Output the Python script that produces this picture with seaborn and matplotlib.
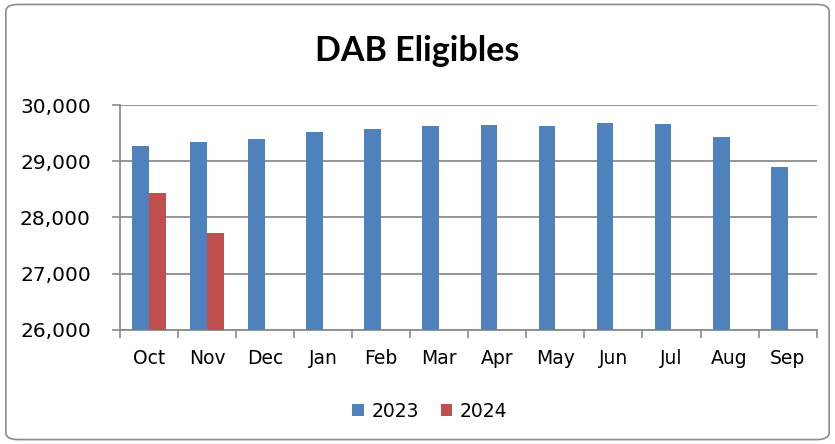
import seaborn as sns
import pandas as pd
import matplotlib.pyplot as plt
from matplotlib.patches import FancyBboxPatch
from matplotlib.ticker import FuncFormatter, FixedLocator

# Months and values
months = ['Oct', 'Nov', 'Dec', 'Jan', 'Feb', 'Mar', 'Apr', 'May', 'Jun', 'Jul', 'Aug', 'Sep']
eligibles_2023 = [29280, 29350, 29390, 29520, 29570, 29620, 29640, 29620, 29680, 29670, 29430, 28900]
eligibles_2024 = [28430, 27720, None, None, None, None, None, None, None, None, None, None]

df = pd.DataFrame({
    'Month': months * 2,
    'Year': ['2023'] * 12 + ['2024'] * 12,
    'Eligibles': eligibles_2023 + eligibles_2024,
})

fig = plt.figure(figsize=(8.35, 4.44), dpi=100)
ax = fig.add_axes([0.1437, 0.2568, 0.8343, 0.5067])

# rounded outer border
fig.patches.append(FancyBboxPatch((0.007, 0.01), 0.986, 0.98, boxstyle='round,pad=0,rounding_size=0.015',
                                  transform=fig.transFigure, fill=False, edgecolor='#8c8c8c', linewidth=1.2))

sns.barplot(data=df, x='Month', y='Eligibles', hue='Year', order=months,
            palette={'2023': '#4f81bd', '2024': '#c0504d'}, width=0.58,
            saturation=1, ax=ax, zorder=3)

ax.set_ylim(26000, 30000)
ax.set_xlim(-0.5, 11.5)
ax.set_yticks(range(26000, 30001, 1000))
ax.yaxis.set_major_formatter(FuncFormatter(lambda v, p: f'{int(v):,}'))
ax.grid(axis='y', color='#8c8c8c', linewidth=1.3, zorder=0)
ax.set_axisbelow(True)
ax.set_xlabel('')
ax.set_ylabel('')

for s in ['top', 'right']:
    ax.spines[s].set_visible(False)
for s in ['left', 'bottom']:
    ax.spines[s].set_color('#8c8c8c')
    ax.spines[s].set_linewidth(1.3)

ax.tick_params(axis='y', length=6, color='#8c8c8c', width=1.2, labelsize=14.5, pad=15)
ax.tick_params(axis='x', which='major', length=0, labelsize=13.5, pad=14)
ax.xaxis.set_minor_locator(FixedLocator([i - 0.5 for i in range(13)]))
ax.tick_params(axis='x', which='minor', length=6, color='#8c8c8c', width=1.2)

for lbl in ax.get_xticklabels() + ax.get_yticklabels():
    lbl.set_color('black')

fig.text(0.5, 0.885, 'DAB Eligibles', ha='center', va='center', fontsize=24.5,
         fontweight='bold', family=['Lato', 'DejaVu Sans'])

handles, labels = ax.get_legend_handles_labels()
ax.legend(handles, labels, loc='center', bbox_to_anchor=(0.515, 0.074), bbox_transform=fig.transFigure,
          ncol=2, frameon=False, fontsize=13.5, handlelength=0.6, handleheight=0.6,
          handletextpad=0.4, columnspacing=1.2)

fig.savefig('out.png', dpi=100)
